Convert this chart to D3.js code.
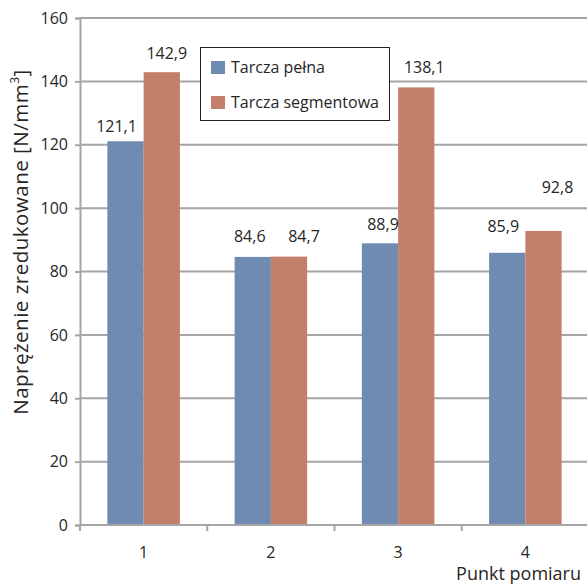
<!DOCTYPE html>
<html>
<head>
<meta charset="utf-8">
<script src="https://cdn.jsdelivr.net/npm/d3@7"></script>
<style>
body { margin: 0; background: #fff; }
text { font-family: "Open Sans", sans-serif; fill: #262626; }
</style>
</head>
<body>
<div id="chart"></div>
<script>
var categories = ["1", "2", "3", "4"];
var seriesNames = ["Tarcza pełna", "Tarcza segmentowa"];
var pelna = [121.1, 84.6, 88.9, 85.9];
var segmentowa = [142.9, 84.7, 138.1, 92.8];
var yTicks = [0, 20, 40, 60, 80, 100, 120, 140, 160];
var colors = ["#6f8bb1", "#c47f6a"];

// label nudges (px) as placed in the original chart: [dx, dy above bar top]
var labelShift = [
  [[-9, 9], [-3, 15], [3, 13], [-4, 21]],
  [[5, 13], [15, 15], [8, 14], [14, 38]]
];

var width = 587, height = 584;
var margin = {top: 18, right: -2, bottom: 59, left: 80};

var svg = d3.select("#chart").append("svg")
  .attr("width", width)
  .attr("height", height);

var y = d3.scaleLinear().domain([0, 160]).range([height - margin.bottom, margin.top]);
var x = d3.scaleBand().domain(categories).range([margin.left, width - margin.right]);

var gridColor = "#a5a5a5";

// gridlines
svg.append("g").selectAll("line")
  .data(yTicks.filter(function(d) { return d > 0; }))
  .enter().append("line")
  .attr("x1", margin.left).attr("x2", width)
  .attr("y1", function(d) { return y(d); })
  .attr("y2", function(d) { return y(d); })
  .style("stroke", gridColor)
  .style("stroke-width", 2);

// y axis
var yAxis = svg.append("g")
  .attr("transform", "translate(" + margin.left + ",0)")
  .call(d3.axisLeft(y).tickValues(yTicks).tickSize(5).tickPadding(7));
yAxis.selectAll("line").style("stroke", gridColor).style("stroke-width", 2);
yAxis.select(".domain").style("stroke", gridColor).style("stroke-width", 2);
yAxis.selectAll("text").style("font-size", "16px").style("font-family", "'Open Sans', sans-serif").style("fill", "#262626");

// bars
var barW = x.bandwidth() * 0.285;
var groups = svg.append("g").selectAll("g")
  .data(categories)
  .enter().append("g")
  .attr("transform", function(d) { return "translate(" + (x(d) + x.bandwidth() / 2) + ",0)"; });

[pelna, segmentowa].forEach(function(vals, s) {
  groups.append("rect")
    .attr("x", s === 0 ? -barW : 0)
    .attr("width", barW)
    .attr("y", function(d, i) { return y(vals[i]); })
    .attr("height", function(d, i) { return y(0) - y(vals[i]); })
    .style("fill", colors[s]);
});
[pelna, segmentowa].forEach(function(vals, s) {
  groups.append("text")
    .attr("x", function(d, i) { return (s === 0 ? -barW / 2 : barW / 2) + labelShift[s][i][0]; })
    .attr("y", function(d, i) { return y(vals[i]) - labelShift[s][i][1]; })
    .attr("text-anchor", "middle")
    .style("font-size", "16px")
    .text(function(d, i) { return vals[i].toFixed(1).replace(".", ","); });
});

// x axis
var xAxis = svg.append("g")
  .attr("transform", "translate(0," + y(0) + ")");
xAxis.append("line")
  .attr("x1", margin.left).attr("x2", width)
  .style("stroke", gridColor).style("stroke-width", 2);
var xt = categories.map(function(c) { return x(c); }).concat([x.range()[1]]);
xAxis.selectAll(".tk").data(xt).enter().append("line")
  .attr("x1", function(d) { return d; }).attr("x2", function(d) { return d; })
  .attr("y1", 0).attr("y2", 6)
  .style("stroke", gridColor).style("stroke-width", 2);
xAxis.selectAll(".lbl").data(categories).enter().append("text")
  .attr("x", function(d) { return x(d) + x.bandwidth() / 2; })
  .attr("y", 33)
  .attr("text-anchor", "middle")
  .style("font-size", "16px")
  .text(function(d) { return d; });

svg.append("text")
  .attr("x", 581).attr("y", 580)
  .attr("text-anchor", "end")
  .style("font-size", "18px")
  .text("Punkt pomiaru");

// y title
var yt = svg.append("text")
  .attr("transform", "translate(28,242) rotate(-90)")
  .attr("text-anchor", "middle")
  .style("font-size", "20.5px")
  .style("letter-spacing", "0.5px");
yt.append("tspan").text("Naprężenie zredukowane [N/mm");
yt.append("tspan").attr("dy", -9).style("font-size", "12px").text("3");
yt.append("tspan").attr("dy", 9).text("]");

// legend
var lg = svg.append("g").attr("transform", "translate(200,47)");
lg.append("rect")
  .attr("x", 0.5).attr("y", 0.5)
  .attr("width", 189).attr("height", 73)
  .style("fill", "#fff").style("stroke", "#222").style("stroke-width", 1);
seriesNames.forEach(function(n, i) {
  lg.append("rect")
    .attr("x", 11).attr("y", 14 + i * 35)
    .attr("width", 14).attr("height", 13)
    .style("fill", colors[i]);
  lg.append("text")
    .attr("x", 31).attr("y", 26 + i * 35)
    .style("font-size", "16px")
    .text(n);
});
</script>
</body>
</html>
